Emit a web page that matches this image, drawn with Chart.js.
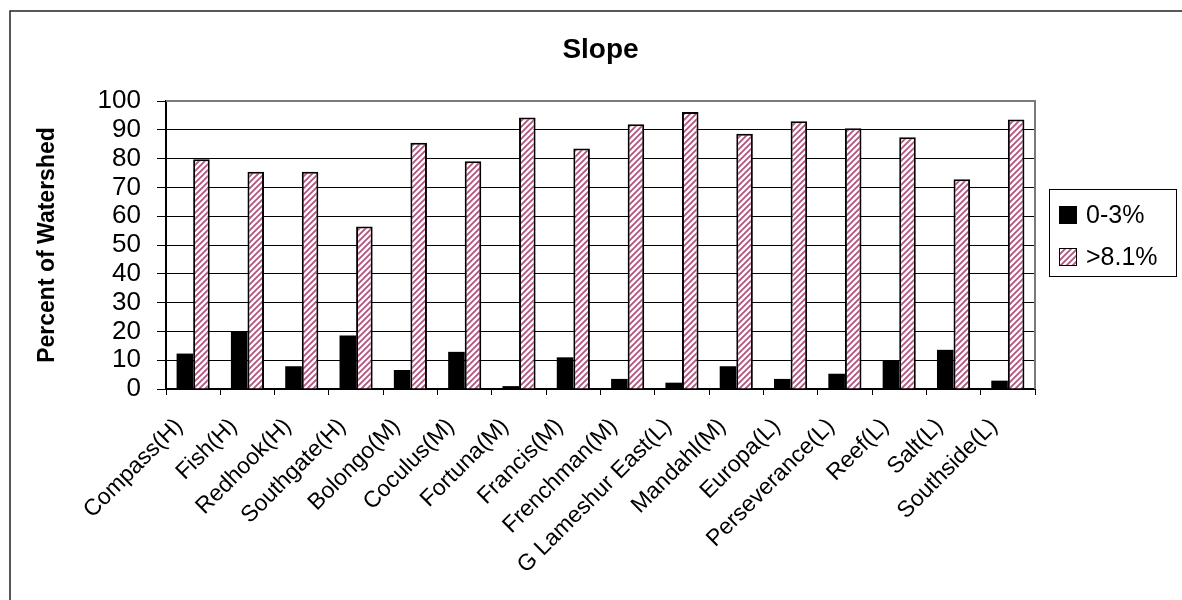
<!DOCTYPE html>
<html>
<head>
<meta charset="utf-8">
<script src="https://cdn.jsdelivr.net/npm/chart.js@4/dist/chart.umd.min.js"></script>
<style>
  html, body { margin: 0; padding: 0; background: #fff; }
  #wrap { width: 1182px; height: 600px; position: relative; }
</style>
</head>
<body>
<div id="wrap"><canvas id="slope" width="1182" height="600"></canvas></div>
<script>
// Watershed names (H/M/L development class)
const categories = [
  'Compass(H)', 'Fish(H)', 'Redhook(H)', 'Southgate(H)', 'Bolongo(M)', 'Coculus(M)',
  'Fortuna(M)', 'Francis(M)', 'Frenchman(M)', 'G Lameshur East(L)', 'Mandahl(M)',
  'Europa(L)', 'Perseverance(L)', 'Reef(L)', 'Salt(L)', 'Southside(L)'
];
// Percent of each watershed in the slope class
const flatSlope  = [12.3, 20.0, 7.9, 18.6, 6.6, 12.9, 1.0, 11.0, 3.5, 2.2, 7.9, 3.5, 5.3, 9.9, 13.6, 2.9];
const steepSlope = [79.8, 75.4, 75.4, 56.4, 85.5, 79.1, 94.3, 83.5, 91.9, 96.2, 88.6, 93.0, 90.5, 87.4, 72.8, 93.6];
const seriesNames = ['0-3%', '>8.1%'];
const yTickValues = [0, 10, 20, 30, 40, 50, 60, 70, 80, 90, 100];
const chartTitle = 'Slope';
const yTitle = 'Percent of Watershed';

const FONT = "'Liberation Sans', Arial, Helvetica, sans-serif";
const canvas = document.getElementById('slope');
const ctx = canvas.getContext('2d');

// Diagonal-stripe fill for the steep-slope series
function makeHatch(color) {
  const s = 6;
  const tile = document.createElement('canvas');
  tile.width = s; tile.height = s;
  const g = tile.getContext('2d');
  g.fillStyle = '#ffffff';
  g.fillRect(0, 0, s, s);
  g.strokeStyle = color;
  g.lineWidth = 1.8;
  g.beginPath();
  g.moveTo(0, s); g.lineTo(s, 0);
  g.moveTo(-s / 2, s / 2); g.lineTo(s / 2, -s / 2);
  g.moveTo(s / 2, s * 1.5); g.lineTo(s * 1.5, s / 2);
  g.stroke();
  return ctx.createPattern(tile, 'repeat');
}
const hatch = makeHatch('#b4527f');

const PLOT = { left: 166, right: 1035, top: 101, bottom: 389 };

// Page frame, plot frame, title and boxed legend
const decor = {
  id: 'decor',
  beforeDraw(chart) {
    const c = chart.ctx;
    c.save();
    c.fillStyle = '#fff';
    c.fillRect(0, 0, chart.width, chart.height);
    c.strokeStyle = '#222';
    c.lineWidth = 1.5;
    c.beginPath();
    c.moveTo(10, chart.height);
    c.lineTo(10, 11);
    c.lineTo(chart.width, 11);
    c.stroke();
    c.restore();
  },
  afterDraw(chart) {
    const c = chart.ctx;
    const a = chart.chartArea;
    c.save();
    // top and right edges of the plot area
    c.strokeStyle = '#7a7a7a';
    c.lineWidth = 2;
    c.beginPath();
    c.moveTo(a.left, a.top);
    c.lineTo(a.right, a.top);
    c.lineTo(a.right, a.bottom);
    c.stroke();

    // title
    c.fillStyle = '#000';
    c.font = 'bold 28px ' + FONT;
    c.textAlign = 'center';
    c.textBaseline = 'middle';
    c.fillText(chartTitle, (a.left + a.right) / 2, 50);

    // legend
    const lx = 1049, ly = 189, lw = 127, lh = 87;
    c.strokeStyle = '#000';
    c.lineWidth = 1;
    c.strokeRect(lx + 0.5, ly + 0.5, lw, lh);
    c.font = '25px ' + FONT;
    c.textAlign = 'left';
    chart.data.datasets.forEach((ds, i) => {
      const cy = ly + 26 + i * 42;
      c.fillStyle = ds.backgroundColor;
      c.fillRect(lx + 10, cy - 9, 18, 18);
      c.strokeStyle = '#000';
      c.lineWidth = 1;
      c.strokeRect(lx + 10.5, cy - 8.5, 17, 17);
      c.fillStyle = '#000';
      c.fillText(ds.label, lx + 37, cy + 1);
    });
    c.restore();
  }
};

new Chart(ctx, {
  type: 'bar',
  data: {
    labels: categories,
    datasets: [
      {
        label: seriesNames[0],
        data: flatSlope,
        backgroundColor: '#000000',
        borderColor: '#000000',
        borderWidth: 0,
        categoryPercentage: 0.61,
        barPercentage: 1.0
      },
      {
        label: seriesNames[1],
        data: steepSlope,
        backgroundColor: hatch,
        borderColor: '#000000',
        borderWidth: 2,
        borderSkipped: 'bottom',
        categoryPercentage: 0.61,
        barPercentage: 1.0
      }
    ]
  },
  options: {
    responsive: false,
    devicePixelRatio: 1,
    animation: false,
    layout: { padding: { left: 0, top: PLOT.top, right: 1182 - PLOT.right, bottom: 0 } },
    plugins: {
      legend: { display: false },
      title: { display: false },
      tooltip: { enabled: false }
    },
    scales: {
      x: {
        type: 'category',
        grid: {
          display: true,
          drawOnChartArea: false,
          drawTicks: true,
          tickLength: 6,
          color: '#000',
          offset: true
        },
        border: { display: true, color: '#000', width: 2 },
        ticks: {
          color: '#000',
          font: { family: FONT, size: 23 },
          minRotation: 45,
          maxRotation: 45,
          autoSkip: false,
          padding: 18,
          labelOffset: -14
        },
        afterFit(scale) { scale.height = 600 - PLOT.bottom; }
      },
      y: {
        min: 0,
        max: 100,
        afterBuildTicks(scale) { scale.ticks = yTickValues.map(v => ({ value: v })); },
        grid: {
          color: '#000',
          lineWidth: 1,
          drawTicks: true,
          tickLength: 9
        },
        border: { display: true, color: '#000', width: 2 },
        ticks: {
          color: '#000',
          font: { family: FONT, size: 26 },
          padding: 16,
          autoSkip: false,
          stepSize: 10
        },
        title: {
          display: true,
          text: yTitle,
          color: '#000',
          font: { family: FONT, size: 23, weight: 'bold' },
          padding: { top: 34, bottom: 0 }
        },
        afterFit(scale) { scale.width = PLOT.left; }
      }
    }
  },
  plugins: [decor]
});
</script>
</body>
</html>
